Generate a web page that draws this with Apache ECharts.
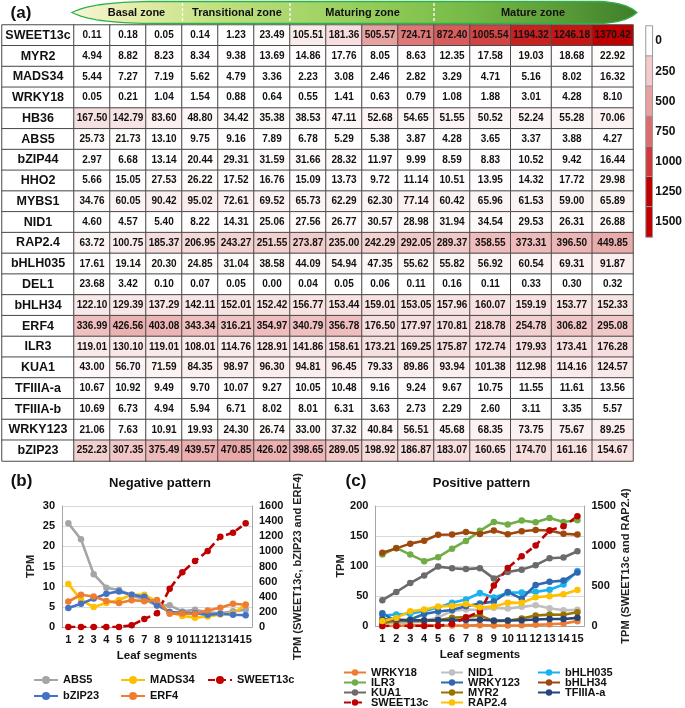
<!DOCTYPE html>
<html><head><meta charset="utf-8">
<script src="https://cdn.jsdelivr.net/npm/echarts@6/dist/echarts.min.js"></script>
<style>html,body{margin:0;padding:0;background:#fff}#main{width:685px;height:708px}</style>
</head><body><div id="main"></div>
<script>
// ---------------- DATA ----------------
const segments = ['1','2','3','4','5','6','7','8','9','10','11','12','13','14','15'];
const genes = ['SWEET13c','MYR2','MADS34','WRKY18','HB36','ABS5','bZIP44','HHO2','MYBS1','NID1','RAP2.4','bHLH035','DEL1','bHLH34','ERF4','ILR3','KUA1','TFIIIA-a','TFIIIA-b','WRKY123','bZIP23'];
const SWEET13c = [0.11,0.18,0.05,0.14,1.23,23.49,105.51,181.36,505.57,724.71,872.40,1005.54,1194.32,1246.18,1370.42];
const MYR2     = [4.94,8.82,8.23,8.34,9.38,13.69,14.86,17.76,8.05,8.63,12.35,17.58,19.03,18.68,22.92];
const MADS34   = [5.44,7.27,7.19,5.62,4.79,3.36,2.23,3.08,2.46,2.82,3.29,4.71,5.16,8.02,16.32];
const WRKY18   = [0.05,0.21,1.04,1.54,0.88,0.64,0.55,1.41,0.63,0.79,1.08,1.88,3.01,4.28,8.10];
const HB36     = [167.50,142.79,83.60,48.80,34.42,35.38,38.53,47.11,52.68,54.65,51.55,50.52,52.24,55.28,70.06];
const ABS5     = [25.73,21.73,13.10,9.75,9.16,7.89,6.78,5.29,5.38,3.87,4.28,3.65,3.37,3.88,4.27];
const bZIP44   = [2.97,6.68,13.14,20.44,29.31,31.59,31.66,28.32,11.97,9.99,8.59,8.83,10.52,9.42,16.44];
const HHO2     = [5.66,15.05,27.53,26.22,17.52,16.76,15.09,13.73,9.72,11.14,10.51,13.95,14.32,17.72,29.98];
const MYBS1    = [34.76,60.05,90.42,95.02,72.61,69.52,65.73,62.29,62.30,77.14,60.42,65.96,61.53,59.00,65.89];
const NID1     = [4.60,4.57,5.40,8.22,14.31,25.06,27.56,26.77,30.57,28.98,31.94,34.54,29.53,26.31,26.88];
const RAP2_4   = [63.72,100.75,185.37,206.95,243.27,251.55,273.87,235.00,242.29,292.05,289.37,358.55,373.31,396.50,449.85];
const bHLH035  = [17.61,19.14,20.30,24.85,31.04,38.58,44.09,54.94,47.35,55.62,55.82,56.92,60.54,69.31,91.87];
const DEL1     = [23.68,3.42,0.10,0.07,0.05,0.00,0.04,0.05,0.06,0.11,0.16,0.11,0.33,0.30,0.32];
const bHLH34   = [122.10,129.39,137.29,142.11,152.01,152.42,156.77,153.44,159.01,153.05,157.96,160.07,159.19,153.77,152.33];
const ERF4     = [336.99,426.56,403.08,343.34,316.21,354.97,340.79,356.78,176.50,177.97,170.81,218.78,254.78,306.82,295.08];
const ILR3     = [119.01,130.10,119.01,108.01,114.76,128.91,141.86,158.61,173.21,169.25,175.87,172.74,179.93,173.41,176.28];
const KUA1     = [43.00,56.70,71.59,84.35,98.97,96.30,94.81,96.45,79.33,89.86,93.94,101.38,112.98,114.16,124.57];
const TFIIIA_a = [10.67,10.92,9.49,9.70,10.07,9.27,10.05,10.48,9.16,9.24,9.67,10.75,11.55,11.61,13.56];
const TFIIIA_b = [10.69,6.73,4.94,5.94,6.71,8.02,8.01,6.31,3.63,2.73,2.29,2.60,3.11,3.35,5.57];
const WRKY123  = [21.06,7.63,10.91,19.93,24.30,26.74,33.00,37.32,40.84,56.51,45.68,68.35,73.75,75.67,89.25];
const bZIP23   = [252.23,307.35,375.49,439.57,470.85,426.02,398.65,289.05,198.92,186.87,183.07,160.65,174.70,161.16,154.67];
// the yellow "MADS34" line in panel (b) is drawn with these values in the figure
const negMADS34Line = TFIIIA_b;
const colorbarTicks = ['0','250','500','750','1000','1250','1500'];
const colorbarColors = ['#ffffff','#f4cacc','#e8a0a2','#dc6d6f','#d0393b','#c00000','#c00000'];
const zoneNames = ['Basal zone','Transitional zone','Maturing zone','Mature zone'];

// ---------------- BUILD ----------------
const FONT = 'Liberation Sans, Arial, sans-serif';
const tableRows = [SWEET13c,MYR2,MADS34,WRKY18,HB36,ABS5,bZIP44,HHO2,MYBS1,NID1,RAP2_4,bHLH035,DEL1,bHLH34,ERF4,ILR3,KUA1,TFIIIA_a,TFIIIA_b,WRKY123,bZIP23];
const splitAt = 11;
const heatLeft = [], heatRight = [];
tableRows.forEach((row, r) => row.forEach((v, c) => {
  if (c < splitAt) heatLeft.push([c, r, v]); else heatRight.push([c - splitAt, r, v]);
}));
const labelCells = genes.map((g, i) => [0, i, 0]);
const colorbarCells = colorbarTicks.map((t, i) => [0, i, i]);

// banner outline (decoration): lens shape pointed at both ends
function quad(p0, p1, p2, n){ const out=[]; for(let i=0;i<=n;i++){const t=i/n,u=1-t; out.push([u*u*p0[0]+2*u*t*p1[0]+t*t*p2[0], u*u*p0[1]+2*u*t*p1[1]+t*t*p2[1]]);} return out; }
const bannerPts = [].concat(
  quad([72,12.5],[92,2],[150,1.5],16),
  quad([600,1.5],[626,2.5],[637,12.5],12),
  quad([637,12.5],[626,22.5],[600,23.5],12),
  quad([150,23.5],[92,23],[72,12.5],16)
);

const chart = echarts.init(document.getElementById('main'), null, {renderer:'canvas', width:685, height:708});

const TOP = 25, H = 436;
const cellBorder = {borderColor:'#4a4a4a', borderWidth:1};
function catX(gi, data){ return {gridIndex:gi, type:'category', data:data, show:false}; }
function catY(gi){ return {gridIndex:gi, type:'category', data:genes, inverse:true, show:false}; }

const axLbl = {fontFamily:FONT, fontSize:11, fontWeight:'bold', color:'#111'};
const axLine = {show:true, lineStyle:{color:'#a6a6a6', width:1}};
function xSeg(gi){
  return {gridIndex:gi, type:'category', data:segments, boundaryGap:true,
    axisLine:axLine, axisTick:{show:false},
    axisLabel:Object.assign({interval:0, margin:7}, axLbl),
    name:'Leaf segments', nameLocation:'middle', nameGap:23,
    nameTextStyle:{fontFamily:FONT, fontSize:11.5, fontWeight:'bold', color:'#111'}};
}
function yVal(gi, pos, max, interval, name, gap, split){
  return {gridIndex:gi, type:'value', position:pos, min:0, max:max, interval:interval,
    axisLine:axLine, axisTick:{show:false},
    splitLine:{show:split, lineStyle:{color:'#d9d9d9'}},
    axisLabel:Object.assign({margin:7, formatter: v => String(v)}, axLbl),
    name:name, nameLocation:'middle', nameRotate:90, nameGap:gap,
    nameTextStyle:{fontFamily:FONT, fontSize:11, fontWeight:'bold', color:'#222'}};
}
function line(name, data, color, xi, yi, dashed){
  return {type:'line', name:name, data:data, xAxisIndex:xi, yAxisIndex:yi,
    symbol:'circle', symbolSize:6.5, color:color,
    itemStyle:{color:color},
    lineStyle:{color:color, width:2.6, type: dashed ? [7,4] : 'solid'},
    emphasis:{disabled:true}, animation:false};
}
function legend(left, top, names, fs, lh, gap, iw, ih){
  return {orient:'vertical', left:left, top:top, height:80, width:100, data:names, padding:0,
    itemWidth:iw, itemHeight:ih, itemGap:gap, selectedMode:false,
    textStyle:{fontFamily:FONT, fontSize:fs, fontWeight:'bold', color:'#111', lineHeight:lh}};
}
function gtext(x, y, text, size){
  return {type:'text', x:x, y:y, z:12, style:{text:text, align:'center', verticalAlign:'middle', fontFamily:FONT, fontSize:size, fontWeight:'bold', fill:'#111'}};
}
function dash(x){ return {type:'line', z:11, shape:{x1:x, y1:3, x2:x, y2:22}, style:{stroke:'#ffffff', lineWidth:1.3, lineDash:[3,2]}}; }

const option = {
  animation:false,
  backgroundColor:'#ffffff',
  textStyle:{fontFamily:FONT},
  grid:[
    {left:2, top:TOP, width:72, height:H},
    {left:74, top:TOP, width:396, height:H},
    {left:470, top:TOP, width:163, height:H},
    {left:646, top:26, width:11, height:211},
    {left:62, top:506, width:190, height:121},
    {left:375.4, top:506, width:209, height:120}
  ],
  xAxis:[
    catX(0, ['']),
    catX(1, segments.slice(0, splitAt)),
    catX(2, segments.slice(splitAt)),
    catX(3, ['']),
    xSeg(4),
    xSeg(5)
  ],
  yAxis:[
    catY(0), catY(1), catY(2),
    {gridIndex:3, type:'category', data:colorbarTicks, inverse:true, position:'right',
      axisLine:{show:false}, axisTick:{show:false},
      axisLabel:{margin:3, fontFamily:FONT, fontSize:12, fontWeight:'bold', color:'#111'}},
    yVal(4, 'left', 30, 5, 'TPM', 26, true),
    yVal(4, 'right', 1600, 200, 'TPM (SWEET13c, bZIP23 and ERF4)', 40, false),
    yVal(5, 'left', 200, 50, 'TPM', 25, true),
    yVal(5, 'right', 1500, 500, 'TPM (SWEET13c and RAP2.4)', 36, false)
  ],
  visualMap:[
    {type:'continuous', show:false, seriesIndex:[1,2], dimension:2, min:0, max:1370.42,
      inRange:{color:['#ffffff','#c00000']}},
    {type:'piecewise', show:false, seriesIndex:[0,3], dimension:2,
      pieces: colorbarColors.map((c, i) => ({value:i, color:c}))}
  ],
  legend:[
    legend(33, 674, ['ABS5','bZIP23'], 11, 12, 4, 24, 10),
    legend(120, 674, ['MADS34','ERF4'], 11, 12, 4, 24, 10),
    legend(207, 674, ['SWEET13c'], 11, 12, 4, 24, 10),
    legend(343, 667, ['WRKY18','ILR3','KUA1','SWEET13c'], 11, 10, -1, 22, 8),
    legend(440, 667, ['NID1','WRKY123','MYR2','RAP2.4'], 11, 10, -1, 22, 8),
    legend(537, 667, ['bHLH035','bHLH34','TFIIIA-a'], 11, 10, -1, 22, 8)
  ],
  series:[
    {type:'heatmap', xAxisIndex:0, yAxisIndex:0, data:labelCells, itemStyle:cellBorder,
      emphasis:{disabled:true},
      label:{show:true, formatter:p => genes[p.value[1]], fontFamily:FONT, fontSize:12.5, fontWeight:'bold', color:'#111'}},
    {type:'heatmap', xAxisIndex:1, yAxisIndex:1, data:heatLeft, itemStyle:cellBorder,
      emphasis:{disabled:true},
      label:{show:true, formatter:p => p.value[2].toFixed(2), fontFamily:FONT, fontSize:10, fontWeight:'bold', color:'#111'}},
    {type:'heatmap', xAxisIndex:2, yAxisIndex:2, data:heatRight, itemStyle:cellBorder,
      emphasis:{disabled:true},
      label:{show:true, formatter:p => p.value[2].toFixed(2), fontFamily:FONT, fontSize:10, fontWeight:'bold', color:'#111'}},
    {type:'heatmap', xAxisIndex:3, yAxisIndex:3, data:colorbarCells,
      itemStyle:{borderColor:'#9a9a9a', borderWidth:1}, emphasis:{disabled:true}, label:{show:false}},
    // panel (b)
    line('ABS5', ABS5, '#a5a5a5', 4, 4),
    line('MADS34', negMADS34Line, '#ffc000', 4, 4),
    line('SWEET13c', SWEET13c, '#c00000', 4, 5, true),
    line('bZIP23', bZIP23, '#4472c4', 4, 5),
    line('ERF4', ERF4, '#ed7d31', 4, 5),
    // panel (c)
    line('WRKY18', WRKY18, '#ed7d31', 5, 6),
    line('NID1', NID1, '#bfbfbf', 5, 6),
    line('bHLH035', bHLH035, '#17b2ef', 5, 6),
    line('ILR3', ILR3, '#70ad47', 5, 6),
    line('WRKY123', WRKY123, '#2e68ae', 5, 6),
    line('bHLH34', bHLH34, '#9e480e', 5, 6),
    line('KUA1', KUA1, '#6b6b6b', 5, 6),
    line('MYR2', MYR2, '#997300', 5, 6),
    line('TFIIIA-a', TFIIIA_a, '#264478', 5, 6),
    line('SWEET13c', SWEET13c, '#c00000', 5, 7, true),
    line('RAP2.4', RAP2_4, '#ffc000', 5, 7)
  ],
  graphic:[
    {type:'polygon', z:10, shape:{points:bannerPts},
      style:{fill:{type:'linear', x:0, y:0, x2:1, y2:0, colorStops:[
        {offset:0, color:'#f8f5d8'},{offset:0.12, color:'#e2eca8'},{offset:0.25, color:'#c2e182'},
        {offset:0.4, color:'#a8d66c'},{offset:0.55, color:'#8fcb56'},{offset:0.7, color:'#76ba47'},
        {offset:0.85, color:'#5e9f3a'},{offset:1, color:'#3e7e2a'}]},
        stroke:'#2fb14a', lineWidth:1.3}},
    dash(182.5), dash(290), dash(434),
    gtext(136.5, 12.5, zoneNames[0], 11),
    gtext(237, 12.5, zoneNames[1], 11),
    gtext(362.5, 12.5, zoneNames[2], 11),
    gtext(533, 12.5, zoneNames[3], 11),
    gtext(21, 13, '(a)', 17),
    gtext(21.5, 481, '(b)', 17),
    gtext(356, 481, '(c)', 17),
    gtext(160, 483, 'Negative pattern', 13),
    gtext(481.5, 483, 'Positive pattern', 13)
  ]
};
chart.setOption(option);
</script>
</body></html>
